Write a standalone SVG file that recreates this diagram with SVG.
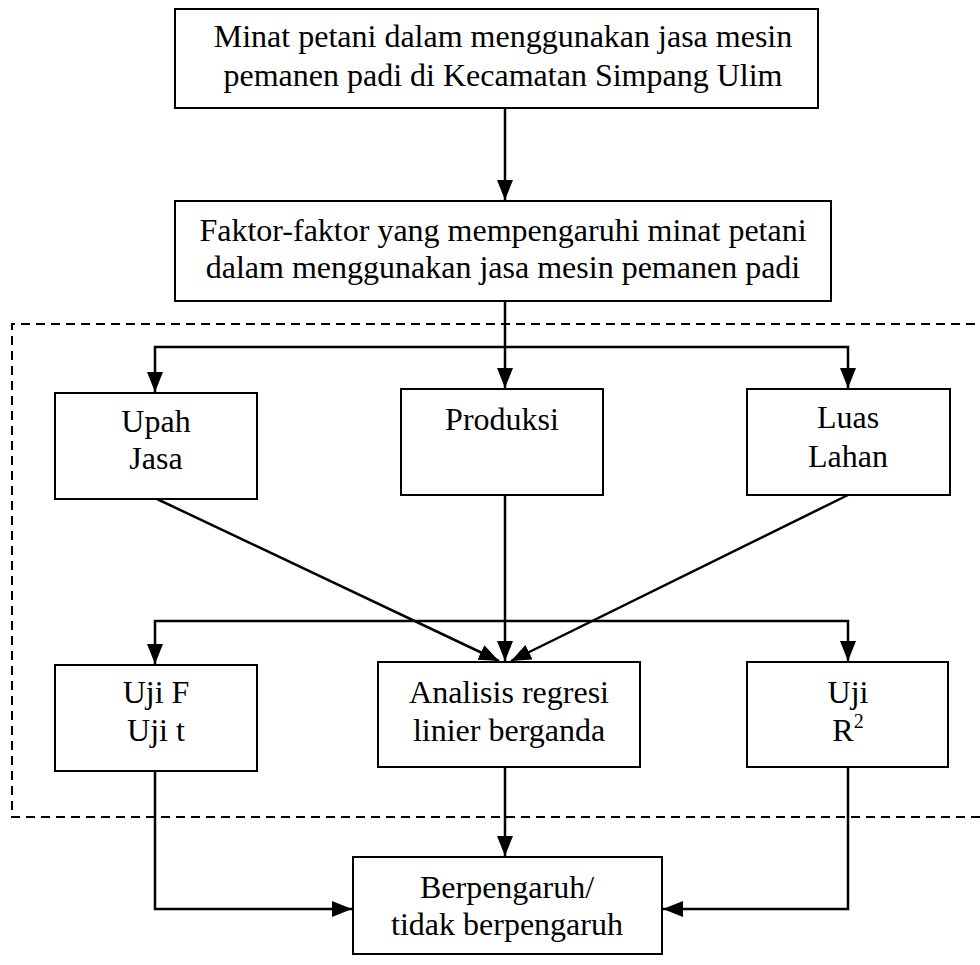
<svg xmlns="http://www.w3.org/2000/svg" width="980" height="965" viewBox="0 0 980 965">
<style>
.box{fill:#fff;stroke:#000;stroke-width:2}
.t{font-family:"Liberation Serif","Times New Roman",serif;font-size:32px;fill:#000;text-anchor:middle}
.c{fill:none;stroke:#000;stroke-width:2.5}
.dash{fill:none;stroke:#000;stroke-width:2;stroke-dasharray:9 6}
</style>
<defs>
<marker id="ah" viewBox="0 0 20 16" refX="20" refY="8" markerWidth="20" markerHeight="16" markerUnits="userSpaceOnUse" orient="auto">
<path d="M0,0 L20,8 L0,16 z" fill="#000"/>
</marker>
</defs>
<rect width="980" height="965" fill="#fff"/>
<g id="boundary">
<path class="dash" d="M990,324 H12 V817 H990"/>
</g>
<g id="connectors">
<path class="c" d="M505,108 V200" marker-end="url(#ah)"/>
<path class="c" d="M505,301 V388" marker-end="url(#ah)"/>
<path class="c" d="M505,347 H155 V392" marker-end="url(#ah)"/>
<path class="c" d="M505,347 H848 V388" marker-end="url(#ah)"/>
<path class="c" d="M157,499 L499,661" marker-end="url(#ah)"/>
<path class="c" d="M505,495 V661" marker-end="url(#ah)"/>
<path class="c" d="M848,495 L511,661" marker-end="url(#ah)"/>
<path class="c" d="M505,621 H155 V664" marker-end="url(#ah)"/>
<path class="c" d="M505,621 H848 V661" marker-end="url(#ah)"/>
<path class="c" d="M505,767 V856" marker-end="url(#ah)"/>
<path class="c" d="M155,771 V909 H352" marker-end="url(#ah)"/>
<path class="c" d="M848,767 V909 H663" marker-end="url(#ah)"/>
</g>
<g id="n-minat">
<rect class="box" x="175" y="9" width="643" height="99"/>
<text class="t" x="503" y="47">Minat petani dalam menggunakan jasa mesin</text>
<text class="t" x="503" y="86">pemanen padi di Kecamatan Simpang Ulim</text>
</g>
<g id="n-faktor">
<rect class="box" x="175" y="201" width="656" height="100"/>
<text class="t" x="503" y="241">Faktor-faktor yang mempengaruhi minat petani</text>
<text class="t" x="503" y="278">dalam menggunakan jasa mesin pemanen padi</text>
</g>
<g id="n-upah">
<rect class="box" x="55" y="393" width="202" height="106"/>
<text class="t" x="156" y="432">Upah</text>
<text class="t" x="156" y="469">Jasa</text>
</g>
<g id="n-produksi">
<rect class="box" x="401" y="389" width="202" height="106"/>
<text class="t" x="502" y="430">Produksi</text>
</g>
<g id="n-luas">
<rect class="box" x="747" y="389" width="203" height="106"/>
<text class="t" x="848" y="428">Luas</text>
<text class="t" x="848" y="467">Lahan</text>
</g>
<g id="n-ujif">
<rect class="box" x="55" y="665" width="202" height="106"/>
<text class="t" x="156" y="703">Uji F</text>
<text class="t" x="156" y="741">Uji t</text>
</g>
<g id="n-analisis">
<rect class="box" x="378" y="662" width="262" height="105"/>
<text class="t" x="509" y="703">Analisis regresi</text>
<text class="t" x="509" y="741">linier berganda</text>
</g>
<g id="n-ujir">
<rect class="box" x="747" y="662" width="201" height="105"/>
<text class="t" x="848" y="703">Uji</text>
<text class="t" x="848" y="741">R<tspan dy="-13" font-size="20">2</tspan></text>
</g>
<g id="n-hasil">
<rect class="box" x="353" y="857" width="309" height="97"/>
<text class="t" x="507" y="898">Berpengaruh/</text>
<text class="t" x="507" y="935">tidak berpengaruh</text>
</g>
</svg>
